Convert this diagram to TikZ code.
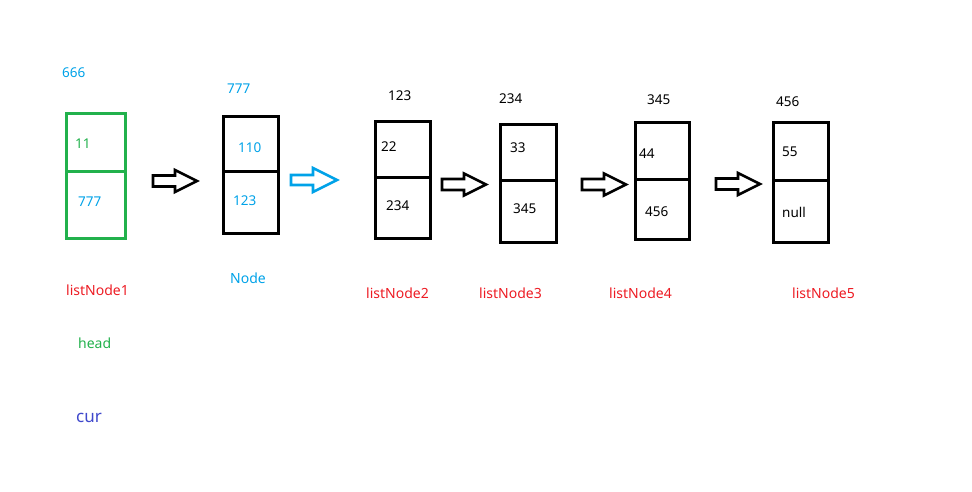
\documentclass[tikz,border=0pt]{standalone}
\usepackage{fontspec}
\setmainfont{Noto Sans}
\definecolor{pblue}{HTML}{00A2E8}
\definecolor{pgreen}{HTML}{22B14C}
\definecolor{pred}{HTML}{ED1C24}
\definecolor{pindigo}{HTML}{3F48CC}
\tikzset{
  txt/.style={anchor=west, inner sep=0pt, font=\fontsize{13.5}{15}\selectfont},
  lbl/.style={anchor=west, inner sep=0pt, font=\fontsize{14}{16}\selectfont},
  boxnode/.style={draw, line width=3pt, inner sep=0pt},
  divider/.style={line width=3pt},
  blockarrow/.pic={\draw[line width=2.6pt, line join=miter] (0,5.5) -- (22,5.5) -- (22,11) -- (44,0) -- (22,-11) -- (22,-5.5) -- (0,-5.5) -- cycle;},
  bluearrow/.pic={\draw[pblue, line width=2.6pt, line join=miter] (0,5) -- (22,5) -- (22,12) -- (46,0) -- (22,-12) -- (22,-5) -- (0,-5) -- cycle;}
}
\begin{document}
\begin{tikzpicture}[x=1pt, y=-1pt]
\useasboundingbox (0,0) rectangle (972,492);
% boxes
\node[boxnode, pgreen, minimum width=59pt, minimum height=124pt] (n1) at (95.5,176) {};
\draw[divider, pgreen] (66,172) -- (125,172);
\node[boxnode, minimum width=55pt, minimum height=116pt] (n0) at (250.5,175) {};
\draw[divider] (223,172) -- (278,172);
\node[boxnode, minimum width=55pt, minimum height=116pt] (n2) at (402.5,180) {};
\draw[divider] (375,177) -- (431,177);
\node[boxnode, minimum width=56pt, minimum height=117pt] (n3) at (528,183.5) {};
\draw[divider] (500,180) -- (557,180);
\node[boxnode, minimum width=54pt, minimum height=116pt] (n4) at (662,181) {};
\draw[divider] (635,179) -- (690,179);
\node[boxnode, minimum width=55pt, minimum height=119pt] (n5) at (800.5,182.5) {};
\draw[divider] (773,180) -- (829,180);
% arrows
\pic at (153,181) {blockarrow};
\pic at (291,180) {bluearrow};
\pic at (442,184.5) {blockarrow};
\pic at (582,184.5) {blockarrow};
\pic at (716,184) {blockarrow};
% texts
\node[txt, pblue] (t666) at (62,73) {666};
\node[txt, pgreen] (t11) at (75,143.5) {11};
\node[txt, pblue] (t777a) at (78,202) {777};
\node[txt, pblue] (t777b) at (227,88.5) {777};
\node[txt, pblue] (t110) at (238,147.5) {110};
\node[txt, pblue] (t123a) at (233,200.5) {123};
\node[txt] (t123b) at (388,96) {123};
\node[txt] (t22) at (381,146.5) {22};
\node[txt] (t234a) at (386,206) {234};
\node[txt] (t234b) at (499,98.5) {234};
\node[txt] (t33) at (510,148) {33};
\node[txt] (t345a) at (513,209) {345};
\node[txt] (t345b) at (647,100) {345};
\node[txt] (t44) at (639,153.5) {44};
\node[txt] (t456a) at (645,212) {456};
\node[txt] (t456b) at (776,102) {456};
\node[txt] (t55) at (782,152) {55};
\node[txt] (tnull) at (782,212) {null};
% labels
\node[lbl, pred] (l1) at (66,290) {listNode1};
\node[lbl, pblue] (l0) at (230,278.5) {Node};
\node[lbl, pred] (l2) at (366,293) {listNode2};
\node[lbl, pred] (l3) at (479,293) {listNode3};
\node[lbl, pred] (l4) at (609,293) {listNode4};
\node[lbl, pred] (l5) at (792,293) {listNode5};
\node[lbl, pgreen] (lh) at (78,343) {head};
\node[anchor=west, inner sep=0pt, font=\fontsize{17}{19}\selectfont, pindigo] (lc) at (76,418) {cur};
\end{tikzpicture}
\end{document}
